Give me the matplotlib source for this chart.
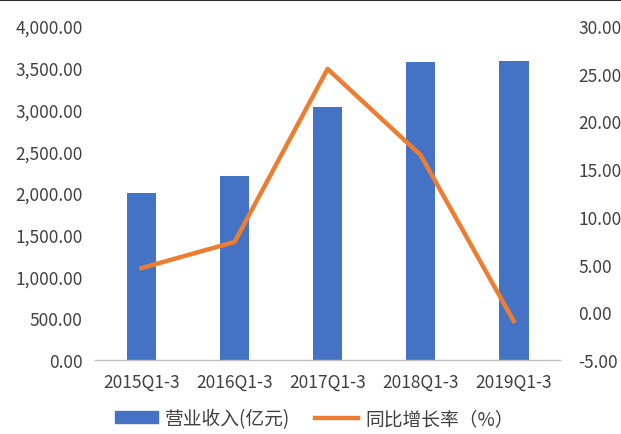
import matplotlib
matplotlib.use("Agg")
import matplotlib.pyplot as plt
from matplotlib.ticker import FuncFormatter, MultipleLocator
from matplotlib.lines import Line2D

plt.rcParams['font.family'] = ['Noto Sans CJK SC', 'DejaVu Sans']

categories = ["2015Q1-3", "2016Q1-3", "2017Q1-3", "2018Q1-3", "2019Q1-3"]
revenue = [2000, 2204, 3030, 3569, 3581]
growth = [4.64, 7.37, 25.5, 16.48, -0.9]

blue = "#4472C4"
orange = "#ED7D31"
txt = "#404040"

fig = plt.figure(figsize=(6.21, 4.35), dpi=100)
ax = fig.add_axes([0.153, 0.170, 0.749, 0.768])
x = list(range(len(categories)))
bars = ax.bar(x, revenue, width=0.32, color=blue, zorder=2)
ax.set_xlim(-0.5, len(categories) - 0.5)
ax.set_ylim(0, 4000)
ax.yaxis.set_major_locator(MultipleLocator(500))
ax.yaxis.set_major_formatter(FuncFormatter(lambda v, p: "{:,.2f}".format(v)))
ax.set_xticks(x)
ax.set_xticklabels(categories)

ax2 = ax.twinx()
line, = ax2.plot(x, growth, color=orange, lw=3.2, zorder=3)
ax2.set_ylim(-5, 30)
ax2.yaxis.set_major_locator(MultipleLocator(5))
ax2.yaxis.set_major_formatter(FuncFormatter(lambda v, p: "{:.2f}".format(v)))

for a in (ax, ax2):
    for s in a.spines.values():
        s.set_visible(False)
    a.tick_params(length=0, labelsize=12.5, colors=txt)
ax.spines['bottom'].set_visible(True)
ax.spines['bottom'].set_color("#BFBFBF")
ax.spines['bottom'].set_linewidth(1)
ax.tick_params(axis='y', pad=9)
ax.tick_params(axis='x', pad=9)
ax2.tick_params(axis='y', pad=13)

# top frame line
fig.add_artist(Line2D([0, 1], [0.997, 0.997], color="#303030", lw=1.5, transform=fig.transFigure))

handles = [plt.Rectangle((0, 0), 1, 1, color=blue), Line2D([0], [0], color=orange, lw=3.2)]
fig.legend(handles, ["营业收入(亿元)", "同比增长率（%）"], loc='center', bbox_to_anchor=(0.506, 0.036),
           ncol=2, frameon=False, fontsize=13.5, handlelength=2.3, handleheight=0.6,
           handletextpad=0.4, columnspacing=1.3, labelcolor=txt)

fig.savefig("out.png", dpi=100)
